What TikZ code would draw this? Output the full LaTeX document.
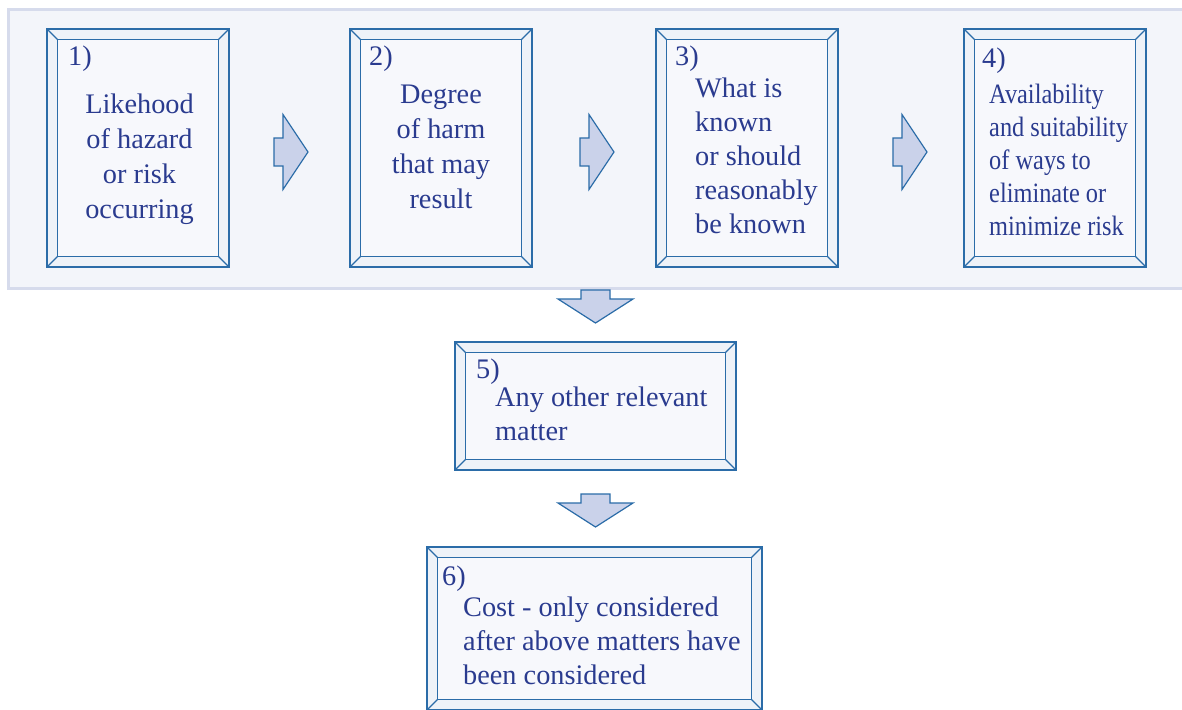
\documentclass[tikz,border=0pt]{standalone}
\usepackage{fontspec}
\setmainfont{Liberation Serif}
\newfontfamily\condfont[FakeStretch=0.87]{Liberation Serif}
\usetikzlibrary{calc}
\definecolor{panelfill}{HTML}{F3F5FA}
\definecolor{panelline}{HTML}{D6DBEC}
\definecolor{fborder}{HTML}{2B6CA8}
\definecolor{bevelfill}{HTML}{EEF2F8}
\definecolor{innerfill}{HTML}{F7F8FC}
\definecolor{arrfill}{HTML}{CAD2EA}
\definecolor{txtcol}{HTML}{2A3B8F}
\newcommand\bevel[1]{%
  \draw[fline, fill=innerfill] ($(#1.north west)+(10.5pt,-10.5pt)$) rectangle ($(#1.south east)+(-10.5pt,10.5pt)$);
  \draw[fline] (#1.north west) -- ++(10.5pt,-10.5pt)
               (#1.north east) -- ++(-10.5pt,-10.5pt)
               (#1.south west) -- ++(10.5pt,10.5pt)
               (#1.south east) -- ++(-10.5pt,10.5pt);}
\newcommand\linesat[6]{%
  \foreach \l [count=\i] in {#6} {\node[txt, anchor=#2] (#1\i) at (#3, {#4+(\i-1)*#5}) {\l};}}
\begin{document}
\begin{tikzpicture}[x=1pt,y=-1pt,
  fline/.style={draw=fborder, line width=1.3pt},
  frame/.style={fline, fill=bevelfill, inner sep=0pt, outer sep=0pt},
  txt/.style={text=txtcol, font=\fontsize{28.3}{33}\selectfont, inner sep=0pt},
  arr/.style={draw=fborder, line width=1.2pt, fill=arrfill, line join=miter},
  rarr/.pic={\draw[arr] (0,-14) -- (9,-14) -- (9,-37.5) -- (34,0) -- (9,37.5) -- (9,14) -- (0,14) -- cycle;},
  darr/.pic={\draw[arr] (-14.5,0) -- (14.5,0) -- (14.5,9) -- (37.5,9) -- (0,33) -- (-37.5,9) -- (-14.5,9) -- cycle;}]
\useasboundingbox (0,0) rectangle (1182,709);
\fill[white] (0,0) rectangle (1182,709);
% panel
\draw[panelline, line width=3pt, fill=panelfill] (8.5,9.5) rectangle (1195,288.5);
% frames
\node[frame, minimum width=182pt, minimum height=238pt] (b1) at (138,148) {};
\node[frame, minimum width=182pt, minimum height=238pt] (b2) at (441,148) {};
\node[frame, minimum width=182pt, minimum height=238pt] (b3) at (747,148) {};
\node[frame, minimum width=182pt, minimum height=238pt] (b4) at (1055,148) {};
\node[frame, minimum width=281pt, minimum height=128pt] (b5) at (595.5,406) {};
\node[frame, minimum width=335pt, minimum height=163pt] (b6) at (594.5,628.5) {};
\foreach \b in {b1,b2,b3,b4,b5,b6} {\bevel{\b}}
% arrows
\pic at (274,152) {rarr};
\pic at (580,152) {rarr};
\pic at (893,152) {rarr};
\pic at (595.5,290) {darr};
\pic at (595.5,494) {darr};
% texts
\node[txt, anchor=base west] (n1) at (68,65) {1)};
\linesat{t1-}{base}{139.5}{113}{35}{Likehood,of hazard,or risk,occurring}
\node[txt, anchor=base west] (n2) at (369,65) {2)};
\linesat{t2-}{base}{441}{103}{35}{Degree,of harm,that may,result}
\node[txt, anchor=base west] (n3) at (675,65) {3)};
\linesat{t3-}{base west}{695}{97}{34}{What is,known,or should,reasonably,be known}
\node[txt, anchor=base west] (n4) at (982,67) {4)};
\begin{scope}[txt/.append style={font=\condfont\fontsize{28}{33}\selectfont}]
\linesat{t4-}{base west}{989}{103}{33.2}{Availability,and suitability,of ways to,eliminate or,minimize risk}
\end{scope}
\node[txt, anchor=base west] (n5) at (476,378) {5)};
\linesat{t5-}{base west}{495}{406}{34.5}{Any other relevant,matter}
\node[txt, anchor=base west] (n6) at (442,585) {6)};
\linesat{t6-}{base west}{463}{616}{34}{Cost - only considered,after above matters have,been considered}
\end{tikzpicture}
\end{document}
